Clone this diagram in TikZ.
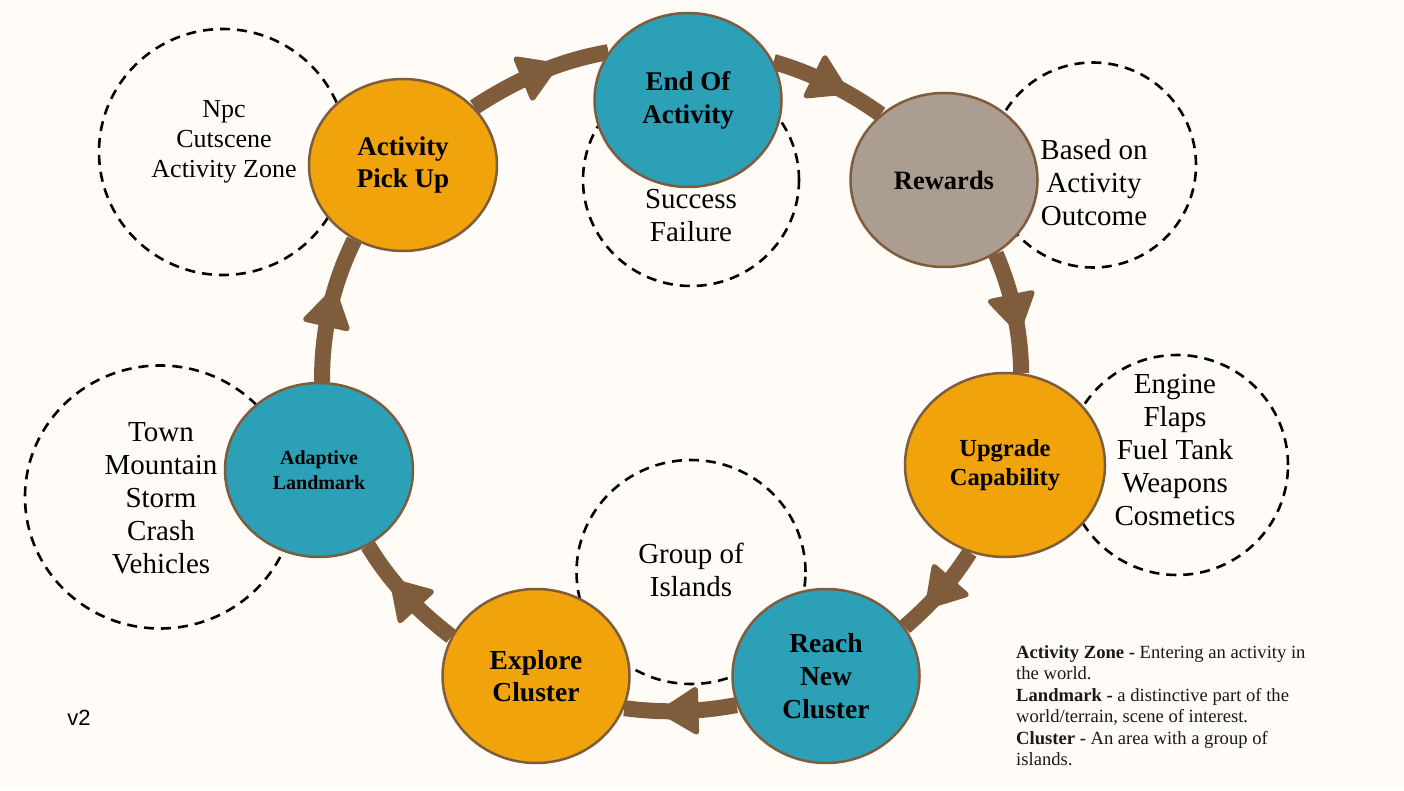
\documentclass[tikz,border=0pt]{standalone}
\usepackage{fontspec}
\setmainfont{Liberation Serif}
\newfontfamily\vsans{Liberation Sans}
\usetikzlibrary{shapes.geometric,decorations.markings}
\pgfdeclarelayer{back}
\pgfdeclarelayer{bg}
\pgfsetlayers{back,bg,main}
\definecolor{bgc}{HTML}{FFFBF6}
\definecolor{brownc}{HTML}{7F5C3C}
\definecolor{orangec}{HTML}{F0A30A}
\definecolor{tealc}{HTML}{2BA0B7}
\definecolor{grayc}{HTML}{AB9D90}
\begin{document}
\begin{tikzpicture}[x=1pt,y=1pt,
  stage/.style={ellipse, draw=brownc, line width=2.5pt, inner sep=0pt,
    minimum width=187pt, minimum height=174pt, align=center,
    font=\bfseries\fontsize{27}{32}\selectfont},
  note/.style={ellipse, draw=black, dash pattern=on 10pt off 7pt,
    line width=2.6pt, inner sep=0pt},
  notetext/.style={align=center, inner sep=0pt, text=black,
    font=\fontsize{29}{33}\selectfont},
  flow/.style={draw=brownc, line width=16pt, postaction={decorate},
    decoration={markings, mark=at position 0.5 with {%
      \fill[brownc, rounded corners=6pt] (24pt,0pt) -- (-18pt,26pt) -- (-18pt,-26pt) -- cycle;}}}]
\begin{pgfonlayer}{back}
\fill[bgc] (0,0) rectangle (1404,790);
\end{pgfonlayer}
\useasboundingbox (0,0) rectangle (1404,790);

% main stages
\node[stage, fill=orangec, minimum width=188pt, minimum height=172pt] (pu) at (403,625) {Activity\\Pick Up};
\node[stage, fill=tealc, font=\bfseries\fontsize{27}{33}\selectfont] (end) at (688,690) {End Of\\Activity};
\node[stage, fill=grayc, font=\bfseries\fontsize{26.5}{32}\selectfont] (rew) at (944,610) {Rewards};
\node[stage, fill=orangec, minimum width=200pt, minimum height=184pt, font=\bfseries\fontsize{24.5}{29}\selectfont] (upg) at (1005,325) {Upgrade\\Capability};
\node[stage, fill=tealc, font=\bfseries\fontsize{27.5}{33}\selectfont] (reach) at (826,114) {Reach\\New\\Cluster};
\node[stage, fill=orangec, font=\bfseries\fontsize{27.5}{32}\selectfont] (exp) at (536,114) {Explore\\Cluster};
\node[stage, fill=tealc, minimum width=188pt, font=\bfseries\fontsize{20}{25}\selectfont] (land) at (319,320) {Adaptive\\Landmark};

% note texts
\node[notetext, font=\fontsize{26}{30}\selectfont] (npct) at (224,648) {Npc\\Cutscene\\Activity Zone};
\node[notetext] (succt) at (691,574) {Success\\Failure};
\node[notetext] (basedt) at (1094,607) {Based on\\Activity\\Outcome};
\node[notetext] (engt) at (1175,340) {Engine\\Flaps\\Fuel Tank\\Weapons\\Cosmetics};
\node[notetext] (groupt) at (691,220) {Group of\\Islands};
\node[notetext] (townt) at (161,292) {Town\\Mountain\\Storm\\Crash\\Vehicles};

% legend
\node[anchor=north west, align=left, inner sep=0pt, text=black!90,
  font=\fontsize{18.6}{21.5}\selectfont] (legend) at (1016,145)
  {\textbf{Activity Zone -} Entering an activity in\\
   the world.\\
   \textbf{Landmark -} a distinctive part of the\\
   world/terrain, scene of interest.\\
   \textbf{Cluster -} An area with a group of\\
   islands.};

\node[font=\vsans\fontsize{22}{26}\selectfont, inner sep=0pt] (ver) at (79,72) {v2};

\begin{pgfonlayer}{bg}
  \node[note, minimum width=248pt, minimum height=246pt] (npc) at (223,638) {};
  \node[note, minimum width=216pt, minimum height=212pt] (succ) at (691,610) {};
  \node[note, minimum width=206pt, minimum height=205pt] (based) at (1093,625) {};
  \node[note, minimum width=222pt, minimum height=220pt] (eng) at (1177,325) {};
  \node[note, minimum width=229pt, minimum height=224pt] (group) at (691,218) {};
  \node[note, minimum width=270pt, minimum height=263pt] (town) at (160,293) {};

  \draw[flow] (pu.39.9) .. controls +(41.0,27.0) and +(-49.1,-8.4) .. (end.149.3);
  \draw[flow] (end.24) .. controls +(39.1,-11.3) and +(-32.7,23.4) .. (rew.134.1);
  \draw[flow] (rew.-55.9) .. controls +(16.6,-38.3) and +(-0.8,41.5) .. (upg.80.6);
  \draw[flow] (upg.248) .. controls +(-18.0,-28.5) and +(26.1,22.2) .. (reach.32);
  \draw[flow] (reach.198.7) .. controls +(-38.2,-7.1) and +(38.5,-5.1) .. (exp.-20.8);
  \draw[flow] (exp.155.6) .. controls +(-33.9,26.0) and +(21.6,-36.0) .. (land.-57.7);
  \draw[flow] (land.88) .. controls +(-0.45,49.6) and +(-22.1,-44.9) .. (pu.237);
\end{pgfonlayer}
\end{tikzpicture}
\end{document}
